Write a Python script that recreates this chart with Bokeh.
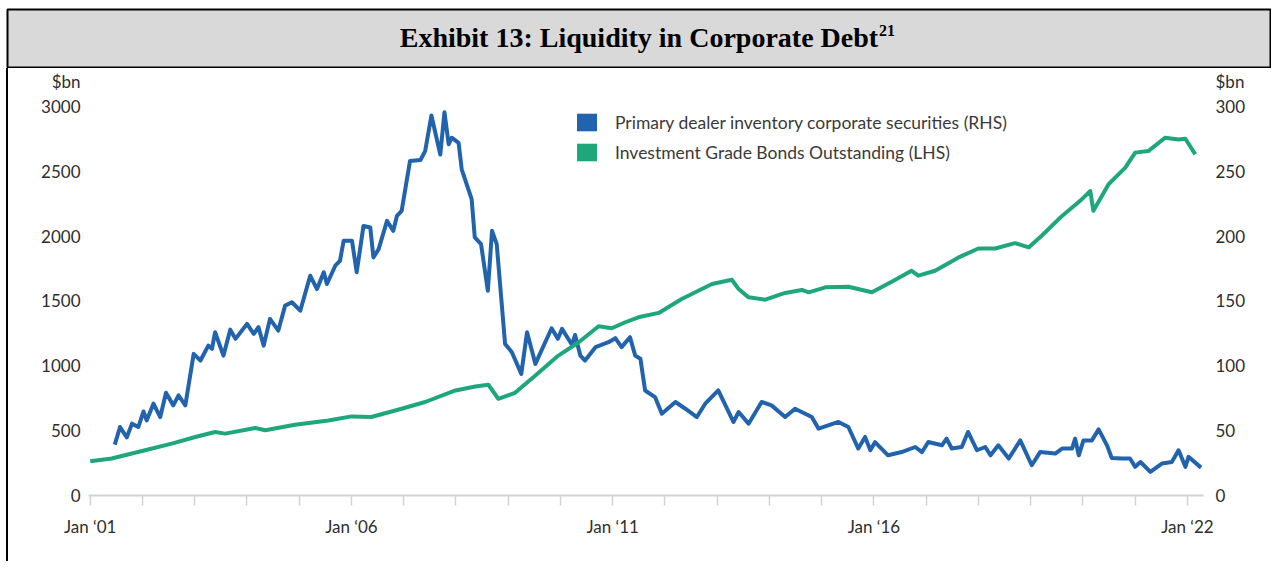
from bokeh.plotting import figure
from bokeh.models import Range1d, LinearAxis, FixedTicker, Legend, LegendItem, Spacer
from bokeh.layouts import column, row
from bokeh.core.properties import value
from bokeh.embed import file_html
from bokeh.resources import INLINE

# ---------------- data ----------------
title_text = "Exhibit 13: Liquidity in Corporate Debt"
title_sup = "21"
series_names = ["Primary dealer inventory corporate securities (RHS)",
                "Investment Grade Bonds Outstanding (LHS)"]

# Investment Grade Bonds Outstanding ($bn, LHS), time in decimal years
green_t = [2001.00, 2001.41, 2002.05, 2002.56, 2003.01, 2003.39, 2003.58, 2004.16, 2004.35, 2004.92,
           2005.56, 2006.00, 2006.38, 2006.96, 2007.41, 2007.99, 2008.37, 2008.62, 2008.81, 2009.13,
           2009.52, 2009.96, 2010.35, 2010.73, 2010.98, 2011.24, 2011.49, 2011.88, 2012.32, 2012.90,
           2013.28, 2013.41, 2013.60, 2013.92, 2014.30, 2014.62, 2014.75, 2015.07, 2015.51, 2015.96,
           2016.34, 2016.72, 2016.85, 2017.17, 2017.62, 2018.00, 2018.32, 2018.70, 2018.96, 2019.21,
           2019.60, 2019.98, 2020.14, 2020.20, 2020.49, 2020.81, 2021.00, 2021.25, 2021.57, 2021.83,
           2021.96, 2022.15]
green_v = [264, 285, 349, 400, 451, 490, 477, 521, 503, 546,
           579, 610, 605, 669, 721, 810, 841, 854, 746, 792,
           926, 1079, 1182, 1305, 1290, 1336, 1374, 1408, 1515, 1631,
           1664, 1592, 1528, 1510, 1562, 1585, 1567, 1605, 1610, 1567,
           1649, 1733, 1695, 1733, 1836, 1905, 1905, 1946, 1913, 2003,
           2156, 2285, 2348, 2195, 2400, 2528, 2644, 2656, 2759, 2746,
           2751, 2631]

# Primary dealer inventory corporate securities ($bn, RHS)
blue_t = [2001.47, 2001.57, 2001.70, 2001.80, 2001.92,
          2002.02, 2002.08, 2002.21, 2002.34, 2002.45, 2002.59, 2002.69, 2002.82, 2002.98,
          2003.11, 2003.26, 2003.33, 2003.39, 2003.55, 2003.68, 2003.78,
          2004.00, 2004.13, 2004.22, 2004.32, 2004.44, 2004.60, 2004.73, 2004.86,
          2005.02, 2005.21, 2005.34, 2005.47, 2005.53, 2005.69, 2005.78, 2005.85,
          2006.01, 2006.10, 2006.23, 2006.36, 2006.42, 2006.52, 2006.68, 2006.80, 2006.87, 2006.96,
          2007.12, 2007.32, 2007.41, 2007.53, 2007.70, 2007.78, 2007.86, 2007.92,
          2008.05, 2008.11, 2008.30, 2008.36, 2008.48, 2008.61, 2008.69, 2008.78, 2008.94,
          2009.07, 2009.25, 2009.36, 2009.52, 2009.83, 2009.95,
          2010.03, 2010.22, 2010.28, 2010.38, 2010.47, 2010.67, 2010.92,
          2011.05, 2011.17, 2011.33, 2011.43, 2011.53, 2011.62, 2011.81, 2011.94,
          2012.20, 2012.39, 2012.61, 2012.77,
          2013.02, 2013.31, 2013.41, 2013.60, 2013.85,
          2014.04, 2014.30, 2014.49, 2014.81, 2014.94,
          2015.32, 2015.51, 2015.70, 2015.83, 2015.93,
          2016.02, 2016.27, 2016.53, 2016.79, 2016.92,
          2017.04, 2017.30, 2017.39, 2017.49, 2017.68, 2017.80, 2017.97,
          2018.13, 2018.23, 2018.38, 2018.58, 2018.80,
          2019.02, 2019.18, 2019.47, 2019.60, 2019.79, 2019.85, 2019.92,
          2020.01, 2020.17, 2020.30, 2020.46, 2020.55, 2020.74, 2020.90,
          2021.00, 2021.10, 2021.29, 2021.51, 2021.70, 2021.83, 2021.96,
          2022.02, 2022.26]
blue_v = [39.2, 52.8, 44.9, 55.4, 52.8,
          64.8, 57.9, 70.8, 60.5, 79.2, 69.5, 77.2, 69.5, 109.2,
          104.1, 115.6, 113.1, 125.9, 107.9, 127.9, 120.8,
          132.3, 124.6, 129.8, 115.6, 136.2, 127.2, 146.4, 149.0,
          142.5, 169.5, 159.2, 172.1, 163.1, 177.2, 181.0, 196.4,
          196.4, 172.1, 207.9, 206.7, 183.6, 190.0, 211.8, 204.1, 215.6, 219.5,
          257.9, 258.7, 265.6, 293.0, 263.0, 295.6, 270.8, 275.9,
          272.0, 251.5, 228.5, 199.0, 193.8, 157.9, 204.1, 193.8, 116.9,
          110.5, 93.8, 125.9, 101.5, 129.0, 120.8,
          128.5, 116.2, 123.8, 107.9, 104.1, 114.4, 118.2,
          121.3, 114.4, 122.1, 107.9, 105.4, 81.0, 75.9, 63.1,
          72.1, 66.9, 60.5, 70.8,
          81.0, 56.7, 64.4, 55.4, 72.1,
          69.5, 60.5, 66.9, 60.5, 51.5,
          56.7, 52.8, 36.2, 45.2, 34.9,
          41.1, 31.0, 33.5, 37.4, 33.5,
          41.3, 38.7, 43.8, 36.2, 37.4, 49.0, 34.9,
          37.4, 31.0, 38.7, 28.5, 42.5,
          23.3, 33.5, 32.3, 36.2, 36.2, 43.8, 31.0,
          42.5, 42.5, 51.0, 38.7, 29.0, 28.5, 28.5,
          22.1, 25.8, 18.2, 24.6, 25.8, 34.9, 22.1,
          29.8, 21.5]

year_ticks = list(range(2001, 2023))
labeled_years = [2001, 2006, 2011, 2016, 2022]
labeled_text = ["Jan \u201801", "Jan \u201806", "Jan \u201811", "Jan \u201816", "Jan \u201822"]
lhs_ticks = [0, 500, 1000, 1500, 2000, 2500, 3000]
rhs_ticks = [0, 50, 100, 150, 200, 250, 300]
unit_label = "$bn"

BLUE = "#2163ad"
GREEN = "#1fa77c"
FONT = "Lato"
TXT = "#2e2e2e"


def bare(fig):
    fig.grid.visible = False
    fig.outline_line_color = None
    fig.background_fill_color = "white"
    fig.border_fill_color = "white"


# ---------------- title box ----------------
tf = figure(width=1265, height=60, x_range=Range1d(0, 1265), y_range=Range1d(0, 60),
            toolbar_location=None, output_backend="svg",
            x_axis_location=None, y_axis_location=None, min_border=1)
tf.grid.visible = False
tf.background_fill_color = "#d9d9d9"
tf.border_fill_color = "white"
tf.outline_line_color = "black"
tf.outline_line_width = 2
tf.text(x=[872], y=[31], text=[title_text], text_align="right", text_baseline="middle",
        text_font=value("Liberation Serif"), text_font_style="bold", text_font_size="28px",
        text_color="black")
tf.text(x=[873], y=[38], text=[title_sup], text_align="left", text_baseline="middle",
        text_font=value("Liberation Serif"), text_font_style="bold", text_font_size="16px",
        text_color="black")

# ---------------- chart ----------------
p = figure(width=1263, height=493, x_range=Range1d(2000.967, 2022.307), y_range=Range1d(0, 3046),
           toolbar_location=None, output_backend="svg",
           min_border_left=80, min_border_right=68, min_border_top=32, min_border_bottom=66)
p.extra_y_ranges = {"rhs": Range1d(0, 304.6)}
bare(p)

p.line(blue_t, blue_v, y_range_name="rhs", line_color=BLUE, line_width=4, line_join="round")
p.line(green_t, green_v, line_color=GREEN, line_width=4, line_join="round")

# x axis
xa = p.xaxis[0]
xa.ticker = FixedTicker(ticks=year_ticks)
overrides = {y: "" for y in year_ticks}
for y, t in zip(labeled_years, labeled_text):
    overrides[y] = t
xa.major_label_overrides = overrides
xa.axis_line_color = "#d3d3d3"
xa.axis_line_width = 2
xa.major_tick_line_color = "#d3d3d3"
xa.major_tick_line_width = 1.5
xa.major_tick_in = 0
xa.major_tick_out = 10
xa.minor_tick_line_color = None
xa.major_label_standoff = 10
xa.major_label_text_font = FONT
xa.major_label_text_font_size = "17px"
xa.major_label_text_color = TXT

# left axis ("$bn" unit sits above the top tick label)
ya = p.yaxis[0]
ya.ticker = FixedTicker(ticks=lhs_ticks)
ya.major_label_overrides = {lhs_ticks[-1]: unit_label + "\n" + str(lhs_ticks[-1]) + "\n\u00a0"}
ya.axis_line_color = None
ya.major_tick_line_color = None
ya.major_tick_in = 0
ya.major_tick_out = 0
ya.minor_tick_line_color = None
ya.major_label_standoff = 8
ya.major_label_text_font = FONT
ya.major_label_text_font_size = "17px"
ya.major_label_text_color = TXT

# right axis
ra = LinearAxis(y_range_name="rhs", ticker=FixedTicker(ticks=rhs_ticks))
ra.major_label_overrides = {rhs_ticks[-1]: unit_label + "\n" + str(rhs_ticks[-1]) + "\n\u00a0"}
ra.axis_line_color = None
ra.major_tick_line_color = None
ra.major_tick_in = 0
ra.major_tick_out = 0
ra.minor_tick_line_color = None
ra.major_label_standoff = 12
ra.major_label_text_font = FONT
ra.major_label_text_font_size = "17px"
ra.major_label_text_color = TXT
p.add_layout(ra, "right")

# legend with square swatches (hidden area renderers carrying the series)
sb = p.vbar(x=blue_t, top=blue_v, width=0.05, y_range_name="rhs",
            fill_color=BLUE, line_color=None, visible=False)
sg = p.vbar(x=green_t, top=green_v, width=0.05,
            fill_color=GREEN, line_color=None, visible=False)
legend = Legend(items=[LegendItem(label=series_names[0], renderers=[sb]),
                       LegendItem(label=series_names[1], renderers=[sg])],
                location=(486, 332), orientation="vertical",
                glyph_width=25, glyph_height=22, label_standoff=16, spacing=8,
                padding=0, margin=0, label_height=22,
                background_fill_alpha=0, border_line_color=None,
                inactive_fill_alpha=0, click_policy="none",
                label_text_font=FONT, label_text_font_size="17.5px", label_text_color="#3a3a3a")
p.add_layout(legend)

left_border = Spacer(width=2, height=493, styles={"background-color": "black"})
body = column(tf, row(left_border, p))
layout = column(Spacer(width=1273, height=8), row(Spacer(width=6, height=553), body))

open("out.html", "w").write(file_html(layout, INLINE))
